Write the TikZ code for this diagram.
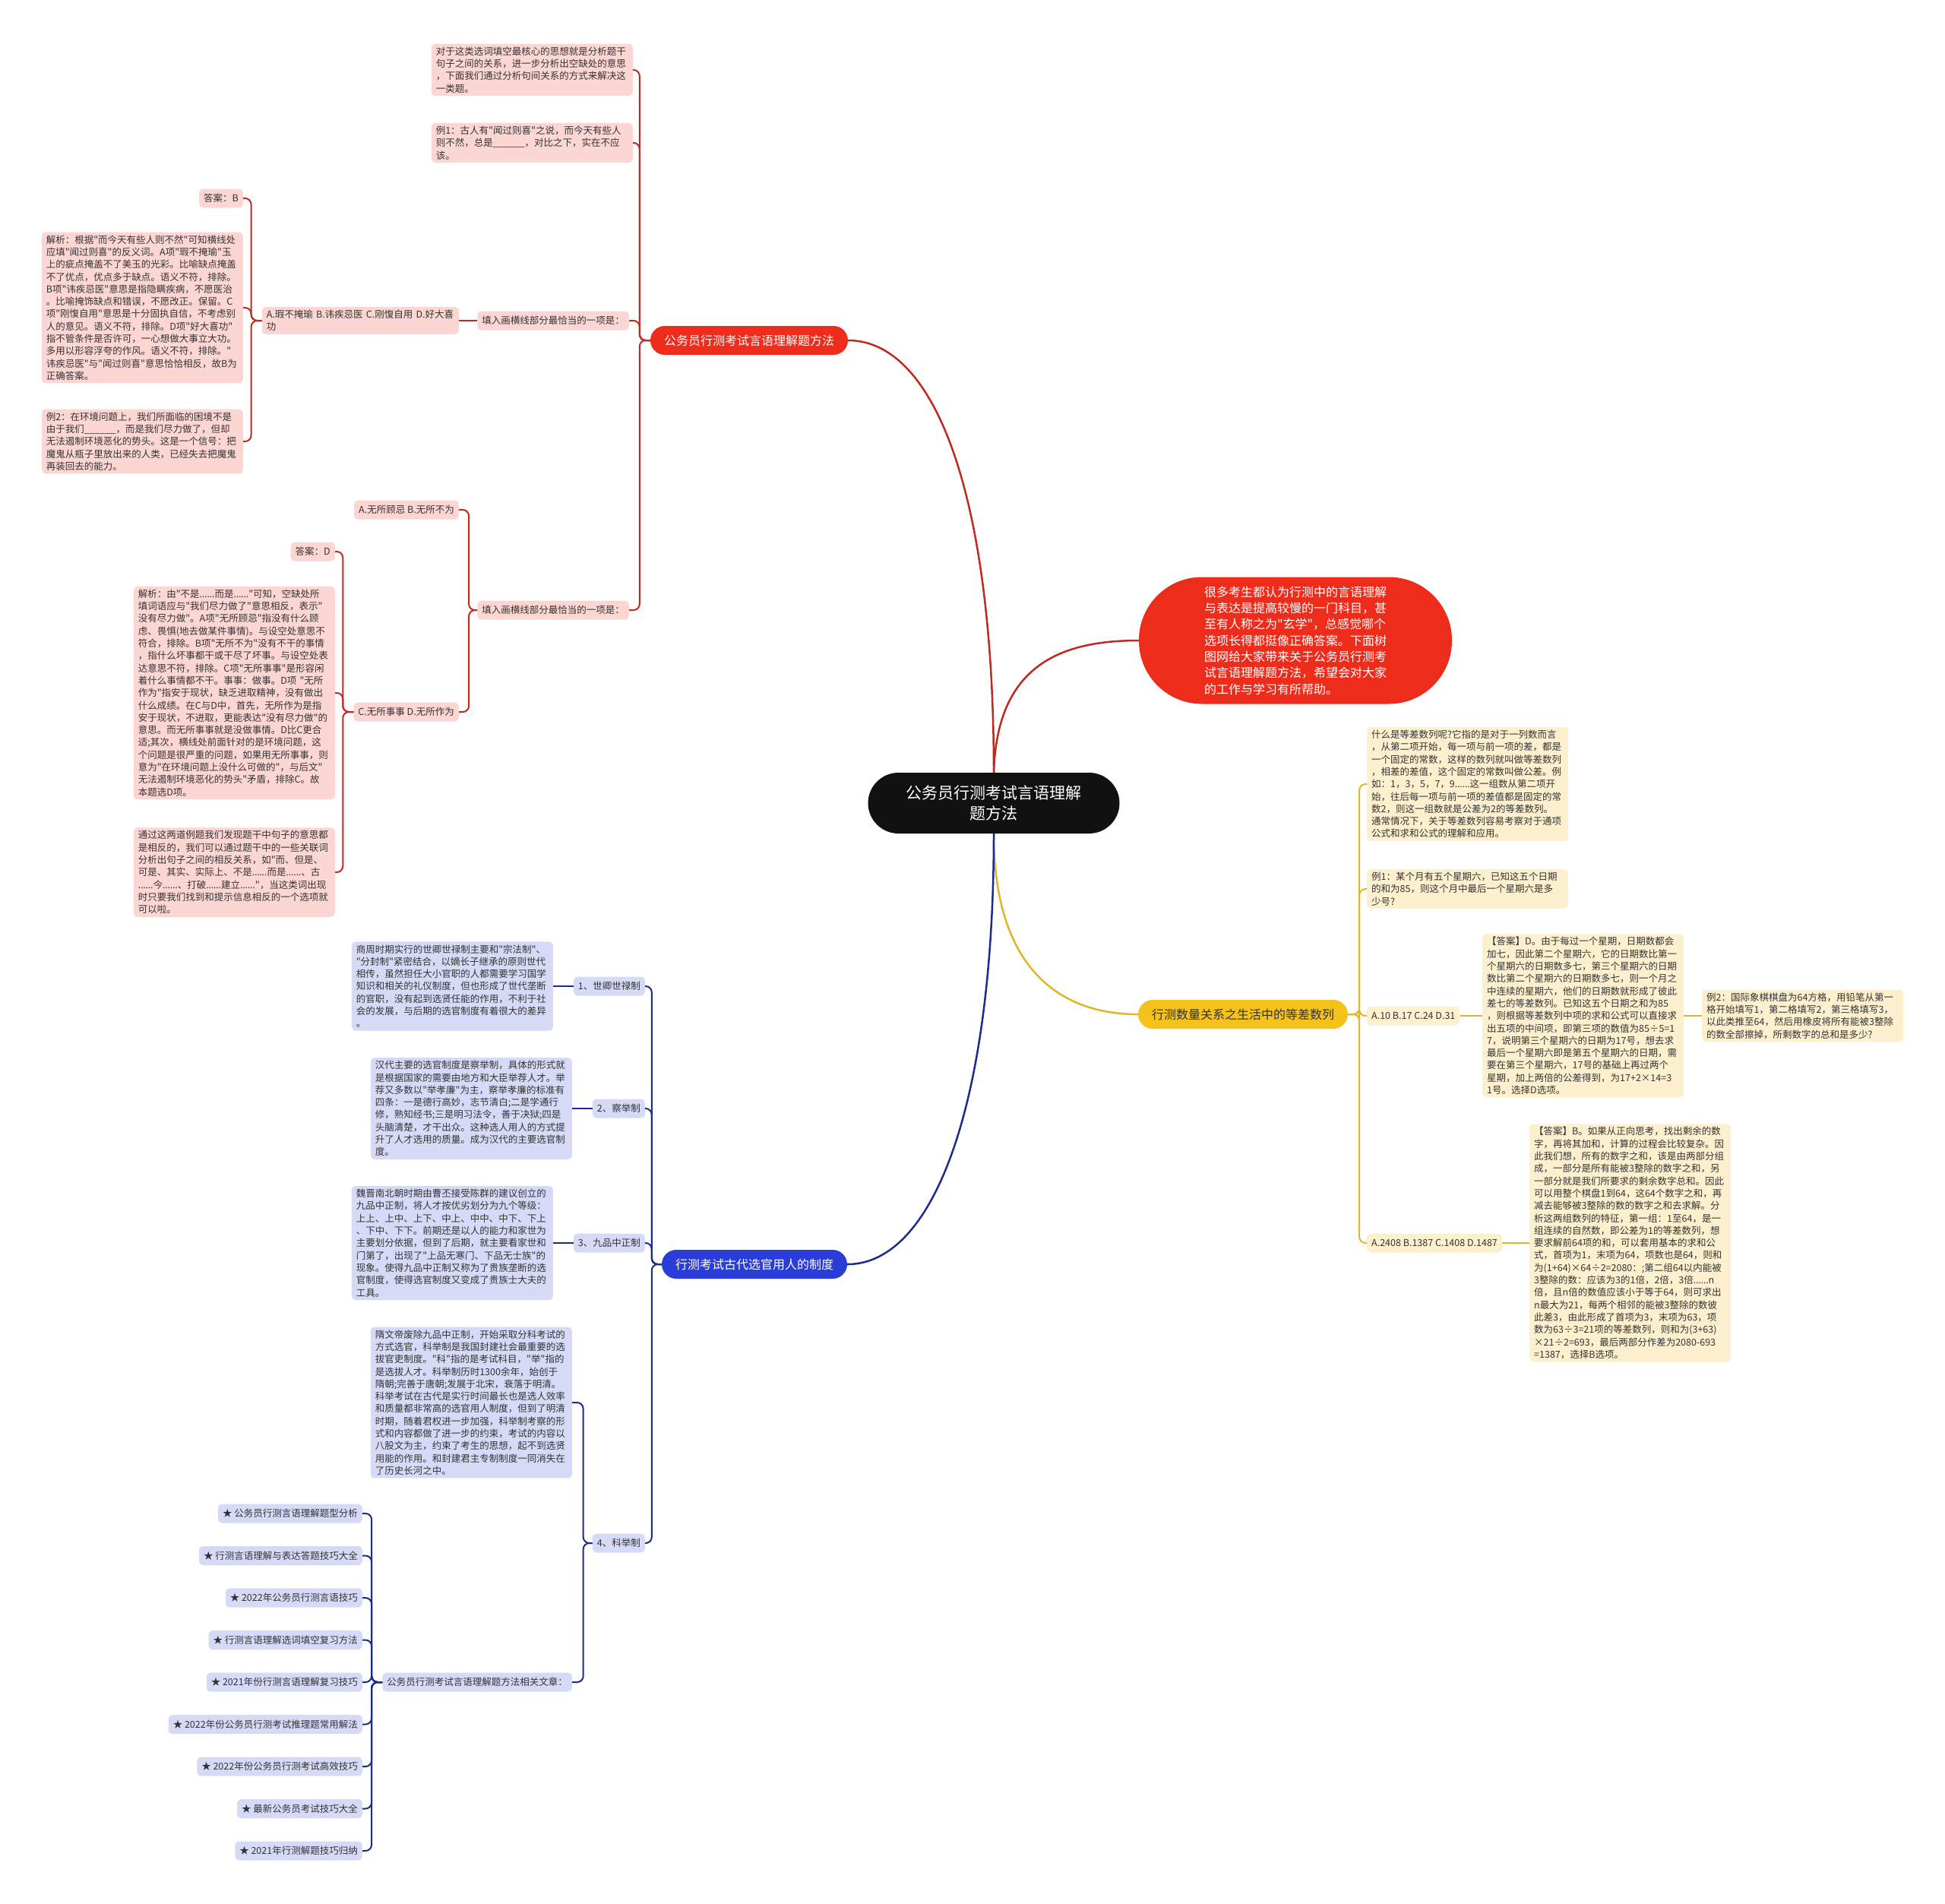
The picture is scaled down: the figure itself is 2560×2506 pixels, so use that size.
\documentclass[tikz,border=0pt]{standalone}
\usepackage{fontspec}
\setmainfont{Noto Sans CJK SC}[Ligatures=TeXOff]
\newfontfamily\latinfont{Noto Sans}
\newcommand{\elli}{{\latinfont ……}}

\definecolor{rootblack}{HTML}{111111}
\definecolor{redmain}{HTML}{EE2C1C}
\definecolor{redpale}{HTML}{FCD6D3}
\definecolor{redline}{HTML}{BF2A20}
\definecolor{bluemain}{HTML}{2B3DD9}
\definecolor{bluepale}{HTML}{D6DAF6}
\definecolor{blueline}{HTML}{1C2B8F}
\definecolor{yelmain}{HTML}{F3C21B}
\definecolor{yelpale}{HTML}{FDF0CE}
\definecolor{yelline}{HTML}{E1B526}
\definecolor{inkgray}{HTML}{333333}

\tikzset{
  cardbox/.style={rounded corners=5pt, inner xsep=6pt, inner ysep=4pt,
    font=\fontsize{12.5}{16.3}\selectfont, text=inkgray, align=left},
  leafcard/.style={cardbox, text width=253pt},
  tagcard/.style={cardbox, minimum height=25pt},
  branchpill/.style={rounded corners=19pt, inner xsep=18pt, minimum height=38pt,
    font=\fontsize{16}{20}\selectfont},
  redleaf/.style={leafcard, fill=redpale},
  redtag/.style={tagcard, fill=redpale},
  blueleaf/.style={leafcard, fill=bluepale},
  bluetag/.style={tagcard, fill=bluepale},
  yelleaf/.style={leafcard, fill=yelpale},
  yeltag/.style={tagcard, fill=yelpale},
  redlink/.style={draw=redline, line width=2pt, rounded corners=8pt},
  bluelink/.style={draw=blueline, line width=2pt, rounded corners=8pt},
  yellink/.style={draw=yelline, line width=2pt, rounded corners=8pt},
}

\begin{document}
\begin{tikzpicture}[x=1pt, y=-1pt]
  \useasboundingbox (0,0) rectangle (2560,2506);

  % Root and the four first-level nodes
  \node[fill=rootblack, text=white, rounded corners=40pt, inner xsep=50pt,
    minimum height=80pt, align=center, font=\fontsize{21}{27}\selectfont]
    (root) at (1308,1057) {公务员行测考试言语理解\\题方法};
  \node[fill=redmain, text=white, rounded corners=83pt, inner xsep=86pt,
    minimum height=167pt, align=left, font=\fontsize{16}{21.3}\selectfont]
    (intro) at (1705,843) {很多考生都认为行测中的言语理解\\与表达是提高较慢的一门科目，甚\\至有人称之为"玄学"，总感觉哪个\\选项长得都挺像正确答案。下面树\\图网给大家带来关于公务员行测考\\试言语理解题方法，希望会对大家\\的工作与学习有所帮助。};
  \node[branchpill, fill=redmain, text=white] (redmain) at (986,448) {公务员行测考试言语理解题方法};
  \node[branchpill, fill=yelmain, text=inkgray] (yelmain) at (1636,1335) {行测数量关系之生活中的等差数列};
  \node[branchpill, fill=bluemain, text=white] (bluemain) at (993,1664) {行测考试古代选官用人的制度};

  \draw[redline, line width=2.5pt] (redmain.east) .. controls (1230,448) and (1308,650) .. (root.north);
  \draw[redline, line width=2.5pt] (root.north) .. controls (1312,880) and (1390,843) .. (intro.west);
  \draw[yelline, line width=2.5pt] (root.south) .. controls (1308,1280) and (1400,1335) .. (yelmain.west);
  \draw[blueline, line width=2.5pt] (root.south) .. controls (1308,1450) and (1230,1664) .. (bluemain.east);

  % Red branch
  \node[redleaf, anchor=east] (rnote) at (833,92) {对于这类选词填空最核心的思想就是分析题干\\句子之间的关系，进一步分析出空缺处的意思\\，下面我们通过分析句间关系的方式来解决这\\一类题。};
  \node[redleaf, anchor=east] (rex1) at (833,188) {例1：古人有"闻过则喜"之说，而今天有些人\\则不然，总是\_\_\_\_\_\_，对比之下，实在不应\\该。};
  \node[redtag, anchor=east] (rq1) at (828,422) {填入画横线部分最恰当的一项是：};
  \node[redtag, anchor=east] (rq2) at (828,803) {填入画横线部分最恰当的一项是：};
  \foreach \kid in {rnote, rex1, rq1, rq2}
    \draw[redlink] (redmain.west) -- ++(-14,0) |- (\kid.east);

  \node[redleaf, anchor=east, text width=247pt] (rq1opt) at (604,422) {A.瑕不掩瑜 B.讳疾忌医 C.刚愎自用 D.好大喜\\功};
  \draw[redlink] (rq1.west) -- (rq1opt.east);
  \node[redtag, anchor=east] (rq1ans) at (320,261) {答案：B};
  \node[redleaf, anchor=east] (rq1exp) at (320,405) {解析：根据"而今天有些人则不然"可知横线处\\应填"闻过则喜"的反义词。A项"瑕不掩瑜"玉\\上的疵点掩盖不了美玉的光彩。比喻缺点掩盖\\不了优点，优点多于缺点。语义不符，排除。\\B项"讳疾忌医"意思是指隐瞒疾病，不愿医治\\。比喻掩饰缺点和错误，不愿改正。保留。C\\项"刚愎自用"意思是十分固执自信，不考虑别\\人的意见。语义不符，排除。D项"好大喜功"\\指不管条件是否许可，一心想做大事立大功。\\多用以形容浮夸的作风。语义不符，排除。"\\讳疾忌医"与"闻过则喜"意思恰恰相反，故B为\\正确答案。};
  \node[redleaf, anchor=east] (rex2) at (320,581) {例2：在环境问题上，我们所面临的困境不是\\由于我们\_\_\_\_\_\_，而是我们尽力做了，但却\\无法遏制环境恶化的势头。这是一个信号：把\\魔鬼从瓶子里放出来的人类，已经失去把魔鬼\\再装回去的能力。};
  \foreach \kid in {rq1ans, rq1exp, rex2}
    \draw[redlink] (rq1opt.west) -- ++(-14,0) |- (\kid.east);

  \node[redtag, anchor=east] (rq2optA) at (604,671) {A.无所顾忌 B.无所不为};
  \node[redtag, anchor=east] (rq2optC) at (604,937) {C.无所事事 D.无所作为};
  \foreach \kid in {rq2optA, rq2optC}
    \draw[redlink] (rq2.west) -- ++(-11,0) |- (\kid.east);
  \node[redtag, anchor=east] (rq2ans) at (441,726) {答案：D};
  \node[redleaf, anchor=east] (rq2exp) at (441,912) {解析：由"不是\elli 而是\elli"可知，空缺处所\\填词语应与"我们尽力做了"意思相反，表示"\\没有尽力做"。A项"无所顾忌"指没有什么顾\\虑、畏惧(地去做某件事情)。与设空处意思不\\符合，排除。B项"无所不为"没有不干的事情\\，指什么坏事都干或干尽了坏事。与设空处表\\达意思不符，排除。C项"无所事事"是形容闲\\着什么事情都不干。事事：做事。D项 "无所\\作为"指安于现状，缺乏进取精神，没有做出\\什么成绩。在C与D中，首先，无所作为是指\\安于现状，不进取，更能表达"没有尽力做"的\\意思。而无所事事就是没做事情。D比C更合\\适;其次，横线处前面针对的是环境问题，这\\个问题是很严重的问题，如果用无所事事，则\\意为"在环境问题上没什么可做的"，与后文"\\无法遏制环境恶化的势头"矛盾，排除C。故\\本题选D项。};
  \node[redleaf, anchor=east] (rsum) at (441,1148) {通过这两道例题我们发现题干中句子的意思都\\是相反的，我们可以通过题干中的一些关联词\\分析出句子之间的相反关系，如"而、但是、\\可是、其实、实际上、不是\elli 而是\elli、古\\\elli 今\elli、打破\elli 建立\elli"，当这类词出现\\时只要我们找到和提示信息相反的一个选项就\\可以啦。};
  \foreach \kid in {rq2ans, rq2exp, rsum}
    \draw[redlink] (rq2optC.west) -- ++(-14,0) |- (\kid.east);

  % Yellow branch
  \node[yelleaf, anchor=west] (ydef) at (1799,1032) {什么是等差数列呢?它指的是对于一列数而言\\，从第二项开始，每一项与前一项的差，都是\\一个固定的常数，这样的数列就叫做等差数列\\，相差的差值，这个固定的常数叫做公差。例\\如：1，3，5，7，9\elli 这一组数从第二项开\\始，往后每一项与前一项的差值都是固定的常\\数2，则这一组数就是公差为2的等差数列。\\通常情况下，关于等差数列容易考察对于通项\\公式和求和公式的理解和应用。};
  \node[yelleaf, anchor=west] (yex1) at (1799,1170) {例1：某个月有五个星期六，已知这五个日期\\的和为85，则这个月中最后一个星期六是多\\少号?};
  \node[yeltag, anchor=west] (yopt1) at (1799,1337) {A.10 B.17 C.24 D.31};
  \node[yeltag, anchor=west] (yopt2) at (1799,1636) {A.2408 B.1387 C.1408 D.1487};
  \foreach \kid in {ydef, yex1, yopt1, yopt2}
    \draw[yellink] (yelmain.east) -- ++(15,0) |- (\kid.west);

  \node[yelleaf, anchor=west] (yans1) at (1951,1337) {【答案】D。由于每过一个星期，日期数都会\\加七，因此第二个星期六，它的日期数比第一\\个星期六的日期数多七，第三个星期六的日期\\数比第二个星期六的日期数多七，则一个月之\\中连续的星期六，他们的日期数就形成了彼此\\差七的等差数列。已知这五个日期之和为85\\，则根据等差数列中项的求和公式可以直接求\\出五项的中间项，即第三项的数值为85÷5=1\\7，说明第三个星期六的日期为17号，想去求\\最后一个星期六即是第五个星期六的日期，需\\要在第三个星期六，17号的基础上再过两个\\星期，加上两倍的公差得到，为17+2×14=3\\1号。选择D选项。};
  \node[yelleaf, anchor=west] (yex2) at (2240,1337) {例2：国际象棋棋盘为64方格，用铅笔从第一\\格开始填写1，第二格填写2，第三格填写3，\\以此类推至64，然后用橡皮将所有能被3整除\\的数全部擦掉，所剩数字的总和是多少?};
  \draw[yellink] (yopt1.east) -- (yans1.west);
  \draw[yellink] (yans1.east) -- (yex2.west);

  \node[yelleaf, anchor=west] (yans2) at (2013,1636) {【答案】B。如果从正向思考，找出剩余的数\\字，再将其加和，计算的过程会比较复杂。因\\此我们想，所有的数字之和，该是由两部分组\\成，一部分是所有能被3整除的数字之和，另\\一部分就是我们所要求的剩余数字总和。因此\\可以用整个棋盘1到64，这64个数字之和，再\\减去能够被3整除的数的数字之和去求解。分\\析这两组数列的特征，第一组：1至64，是一\\组连续的自然数，即公差为1的等差数列，想\\要求解前64项的和，可以套用基本的求和公\\式，首项为1，末项为64，项数也是64，则和\\为(1+64)×64÷2=2080：;第二组64以内能被\\3整除的数：应该为3的1倍，2倍，3倍\elli n\\倍，且n倍的数值应该小于等于64，则可求出\\n最大为21，每两个相邻的能被3整除的数彼\\此差3，由此形成了首项为3，末项为63，项\\数为63÷3=21项的等差数列，则和为(3+63)\\×21÷2=693，最后两部分作差为2080-693\\=1387，选择B选项。};
  \draw[yellink] (yopt2.east) -- (yans2.west);

  % Blue branch
  \node[bluetag, anchor=east] (bsys1) at (849,1298) {1、世卿世禄制};
  \node[bluetag, anchor=east] (bsys2) at (849,1459) {2、察举制};
  \node[bluetag, anchor=east] (bsys3) at (849,1636) {3、九品中正制};
  \node[bluetag, anchor=east] (bsys4) at (849,2031) {4、科举制};
  \foreach \kid in {bsys1, bsys2, bsys3, bsys4}
    \draw[bluelink] (bluemain.west) -- ++(-13,0) |- (\kid.east);

  \node[blueleaf, anchor=east] (bsys1txt) at (728,1298) {商周时期实行的世卿世禄制主要和"宗法制"、\\"分封制"紧密结合，以嫡长子继承的原则世代\\相传，虽然担任大小官职的人都需要学习国学\\知识和相关的礼仪制度，但也形成了世代垄断\\的官职，没有起到选贤任能的作用，不利于社\\会的发展，与后期的选官制度有着很大的差异\\。};
  \node[blueleaf, anchor=east] (bsys2txt) at (753,1459) {汉代主要的选官制度是察举制，具体的形式就\\是根据国家的需要由地方和大臣举荐人才。举\\荐又多数以"举孝廉"为主，察举孝廉的标准有\\四条：一是德行高妙，志节清白;二是学通行\\修，熟知经书;三是明习法令，善于决狱;四是\\头脑清楚，才干出众。这种选人用人的方式提\\升了人才选用的质量。成为汉代的主要选官制\\度。};
  \node[blueleaf, anchor=east] (bsys3txt) at (728,1636) {魏晋南北朝时期由曹丕接受陈群的建议创立的\\九品中正制，将人才按优劣划分为九个等级：\\上上、上中、上下、中上、中中、中下、下上\\、下中、下下。前期还是以人的能力和家世为\\主要划分依据，但到了后期，就主要看家世和\\门第了，出现了"上品无寒门、下品无士族"的\\现象。使得九品中正制又称为了贵族垄断的选\\官制度，使得选官制度又变成了贵族士大夫的\\工具。};
  \draw[bluelink] (bsys1.west) -- (bsys1txt.east);
  \draw[bluelink] (bsys2.west) -- (bsys2txt.east);
  \draw[bluelink] (bsys3.west) -- (bsys3txt.east);

  \node[blueleaf, anchor=east] (bsys4txt) at (753,1846) {隋文帝废除九品中正制，开始采取分科考试的\\方式选官，科举制是我国封建社会最重要的选\\拔官吏制度。"科"指的是考试科目，"举"指的\\是选拔人才。科举制历时1300余年，始创于\\隋朝;完善于唐朝;发展于北宋，衰落于明清。\\科举考试在古代是实行时间最长也是选人效率\\和质量都非常高的选官用人制度，但到了明清\\时期，随着君权进一步加强，科举制考察的形\\式和内容都做了进一步的约束，考试的内容以\\八股文为主，约束了考生的思想，起不到选贤\\用能的作用。和封建君主专制制度一同消失在\\了历史长河之中。};
  \node[bluetag, anchor=east] (blinks) at (753,2214) {公务员行测考试言语理解题方法相关文章：};
  \foreach \kid in {bsys4txt, blinks}
    \draw[bluelink] (bsys4.west) -- ++(-12,0) |- (\kid.east);

  % Related articles
  \foreach \txt [count=\i from 0] in {★ 公务员行测言语理解题型分析, ★ 行测言语理解与表达答题技巧大全, ★ 2022年公务员行测言语技巧, ★ 行测言语理解选词填空复习方法, ★ 2021年份行测言语理解复习技巧, ★ 2022年份公务员行测考试推理题常用解法, ★ 2022年份公务员行测考试高效技巧, ★ 最新公务员考试技巧大全, ★ 2021年行测解题技巧归纳} {
    \node[bluetag, anchor=east] (blink\i) at (477,1992+55.5*\i) {\txt};
    \draw[bluelink] (blinks.west) -- ++(-14,0) |- (blink\i.east);
  }
\end{tikzpicture}
\end{document}
